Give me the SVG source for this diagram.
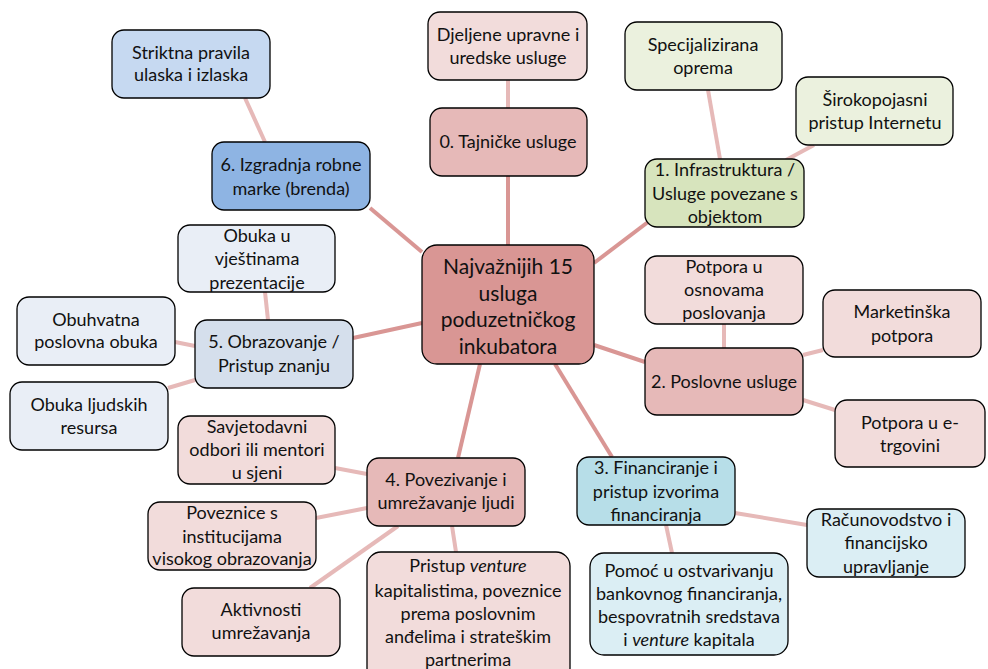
<svg xmlns="http://www.w3.org/2000/svg" width="988" height="669" viewBox="0 0 988 669">
  <style>
    .box { stroke: #000; stroke-width: 1.3; }
    .t { font-family: Lato, "Open Sans", sans-serif; font-size: 18px; fill: #111; text-anchor: middle; }
    .tc { font-family: Lato, "Open Sans", sans-serif; font-size: 21px; fill: #111; text-anchor: middle; }
    .main { stroke: #d99694; stroke-width: 4; stroke-linecap: butt; }
    .sub { stroke: #e6b9b8; stroke-width: 4; }
    .rose1 { fill: #d99694; }
    .rose2 { fill: #e6b9b8; }
    .rose3 { fill: #f2dcdb; }
    .green1 { fill: #d7e4bd; }
    .green2 { fill: #ebf1de; }
    .blue1 { fill: #8eb4e3; }
    .blue2 { fill: #c6d9f1; }
    .grey1 { fill: #d5dfec; }
    .grey2 { fill: #e9eef6; }
    .aqua1 { fill: #b7dee8; }
    .aqua2 { fill: #dbeef4; }
  </style>
  <rect width="988" height="669" fill="#fff"/>

  <!-- connectors -->
  <g id="connectors">
    <line class="main" x1="508" y1="176" x2="508" y2="245"/>
    <line class="main" x1="594" y1="263" x2="648" y2="222"/>
    <line class="main" x1="370" y1="208" x2="422" y2="252"/>
    <line class="main" x1="353" y1="338" x2="422" y2="323"/>
    <line class="main" x1="594" y1="345" x2="645" y2="362"/>
    <line class="main" x1="555" y1="364" x2="612" y2="457"/>
    <line class="main" x1="480" y1="364" x2="458" y2="458"/>

    <line class="sub" x1="508" y1="80" x2="508" y2="108"/>
    <line class="sub" x1="708" y1="90" x2="720" y2="159"/>
    <line class="sub" x1="814" y1="145" x2="786" y2="160"/>
    <line class="sub" x1="245" y1="98" x2="265" y2="142"/>
    <line class="sub" x1="265" y1="292" x2="268" y2="320"/>
    <line class="sub" x1="175" y1="342" x2="195" y2="346"/>
    <line class="sub" x1="168" y1="388" x2="195" y2="380"/>
    <line class="sub" x1="335" y1="468" x2="367" y2="474"/>
    <line class="sub" x1="316" y1="518" x2="367" y2="508"/>
    <line class="sub" x1="310" y1="588" x2="398" y2="526"/>
    <line class="sub" x1="452" y1="526" x2="456" y2="552"/>
    <line class="sub" x1="724" y1="324" x2="724" y2="348"/>
    <line class="sub" x1="803" y1="355" x2="823" y2="350"/>
    <line class="sub" x1="803" y1="400" x2="835" y2="410"/>
    <line class="sub" x1="735" y1="513" x2="807" y2="525"/>
    <line class="sub" x1="666" y1="525" x2="672" y2="553"/>
  </g>

  <!-- centre -->
  <g id="center">
    <rect class="box rose1" x="422" y="245" width="172" height="119" rx="15"/>
    <text class="tc" x="508" y="274">Najvažnijih 15</text>
    <text class="tc" x="508" y="301">usluga</text>
    <text class="tc" x="508" y="327">poduzetničkog</text>
    <text class="tc" x="508" y="354">inkubatora</text>
  </g>

  <!-- 0 -->
  <g id="n0">
    <rect class="box rose2" x="430" y="108" width="157" height="68" rx="12"/>
    <text class="t" x="508" y="148">0. Tajničke usluge</text>
  </g>
  <g id="n0a">
    <rect class="box rose3" x="428" y="12" width="159" height="68" rx="12"/>
    <text class="t" x="508" y="41">Djeljene upravne i</text>
    <text class="t" x="508" y="64">uredske usluge</text>
  </g>

  <!-- 1 -->
  <g id="n1">
    <rect class="box green1" x="645" y="159" width="159" height="68" rx="12"/>
    <text class="t" x="725" y="176">1. Infrastruktura /</text>
    <text class="t" x="725" y="200">Usluge povezane s</text>
    <text class="t" x="725" y="223">objektom</text>
  </g>
  <g id="n1a">
    <rect class="box green2" x="625" y="22" width="157" height="68" rx="12"/>
    <text class="t" x="703" y="51">Specijalizirana</text>
    <text class="t" x="703" y="74">oprema</text>
  </g>
  <g id="n1b">
    <rect class="box green2" x="796" y="77" width="157" height="68" rx="12"/>
    <text class="t" x="875" y="106">Širokopojasni</text>
    <text class="t" x="875" y="129">pristup Internetu</text>
  </g>

  <!-- 2 -->
  <g id="n2">
    <rect class="box rose2" x="645" y="348" width="158" height="67" rx="12"/>
    <text class="t" x="724" y="388">2. Poslovne usluge</text>
  </g>
  <g id="n2a">
    <rect class="box rose3" x="645" y="256" width="158" height="68" rx="12"/>
    <text class="t" x="724" y="273">Potpora u</text>
    <text class="t" x="724" y="296">osnovama</text>
    <text class="t" x="724" y="319">poslovanja</text>
  </g>
  <g id="n2b">
    <rect class="box rose3" x="823" y="290" width="158" height="67" rx="12"/>
    <text class="t" x="902" y="318">Marketinška</text>
    <text class="t" x="902" y="342">potpora</text>
  </g>
  <g id="n2c">
    <rect class="box rose3" x="835" y="400" width="150" height="67" rx="12"/>
    <text class="t" x="910" y="429">Potpora u e-</text>
    <text class="t" x="910" y="452">trgovini</text>
  </g>

  <!-- 3 -->
  <g id="n3">
    <rect class="box aqua1" x="577" y="457" width="158" height="68" rx="12"/>
    <text class="t" x="656" y="474">3. Financiranje i</text>
    <text class="t" x="656" y="498">pristup izvorima</text>
    <text class="t" x="656" y="521">financiranja</text>
  </g>
  <g id="n3a">
    <rect class="box aqua2" x="807" y="509" width="158" height="68" rx="12"/>
    <text class="t" x="886" y="526">Računovodstvo i</text>
    <text class="t" x="886" y="549">financijsko</text>
    <text class="t" x="886" y="573">upravljanje</text>
  </g>
  <g id="n3b">
    <rect class="box aqua2" x="590" y="553" width="198" height="102" rx="14"/>
    <text class="t" x="689" y="577">Pomoć u ostvarivanju</text>
    <text class="t" x="689" y="600">bankovnog financiranja,</text>
    <text class="t" x="689" y="623">bespovratnih sredstava</text>
    <text class="t" x="689" y="646">i <tspan font-style="italic">venture</tspan> kapitala</text>
  </g>

  <!-- 4 -->
  <g id="n4">
    <rect class="box rose2" x="367" y="458" width="158" height="68" rx="12"/>
    <text class="t" x="446" y="486">4. Povezivanje i</text>
    <text class="t" x="446" y="509">umrežavanje ljudi</text>
  </g>
  <g id="n4a">
    <rect class="box rose3" x="178" y="416" width="157" height="68" rx="12"/>
    <text class="t" x="257" y="433">Savjetodavni</text>
    <text class="t" x="257" y="456">odbori ili mentori</text>
    <text class="t" x="257" y="479">u sjeni</text>
  </g>
  <g id="n4b">
    <rect class="box rose3" x="148" y="502" width="168" height="68" rx="12"/>
    <text class="t" x="232" y="519">Poveznice s</text>
    <text class="t" x="232" y="543">institucijama</text>
    <text class="t" x="232" y="565">visokog obrazovanja</text>
  </g>
  <g id="n4c">
    <rect class="box rose3" x="182" y="588" width="158" height="68" rx="12"/>
    <text class="t" x="261" y="616">Aktivnosti</text>
    <text class="t" x="261" y="639">umrežavanja</text>
  </g>
  <g id="n4d">
    <rect class="box rose3" x="367" y="552" width="203" height="130" rx="14"/>
    <text class="t" x="468" y="572">Pristup <tspan font-style="italic">venture</tspan></text>
    <text class="t" x="468" y="597">kapitalistima, poveznice</text>
    <text class="t" x="468" y="620">prema poslovnim</text>
    <text class="t" x="468" y="643">anđelima i strateškim</text>
    <text class="t" x="468" y="666">partnerima</text>
  </g>

  <!-- 5 -->
  <g id="n5">
    <rect class="box grey1" x="195" y="320" width="158" height="68" rx="12"/>
    <text class="t" x="274" y="348">5. Obrazovanje /</text>
    <text class="t" x="274" y="372">Pristup znanju</text>
  </g>
  <g id="n5a">
    <rect class="box grey2" x="178" y="225" width="157" height="67" rx="12"/>
    <text class="t" x="257" y="242">Obuka u</text>
    <text class="t" x="257" y="265">vještinama</text>
    <text class="t" x="257" y="289">prezentacije</text>
  </g>
  <g id="n5b">
    <rect class="box grey2" x="17" y="297" width="158" height="68" rx="12"/>
    <text class="t" x="96" y="326">Obuhvatna</text>
    <text class="t" x="96" y="348">poslovna obuka</text>
  </g>
  <g id="n5c">
    <rect class="box grey2" x="10" y="382" width="158" height="68" rx="12"/>
    <text class="t" x="89" y="411">Obuka ljudskih</text>
    <text class="t" x="89" y="434">resursa</text>
  </g>

  <!-- 6 -->
  <g id="n6">
    <rect class="box blue1" x="212" y="142" width="158" height="68" rx="12"/>
    <text class="t" x="291" y="171">6. Izgradnja robne</text>
    <text class="t" x="291" y="195">marke (brenda)</text>
  </g>
  <g id="n6a">
    <rect class="box blue2" x="112" y="30" width="158" height="68" rx="12"/>
    <text class="t" x="191" y="59">Striktna pravila</text>
    <text class="t" x="191" y="81">ulaska i izlaska</text>
  </g>
</svg>
